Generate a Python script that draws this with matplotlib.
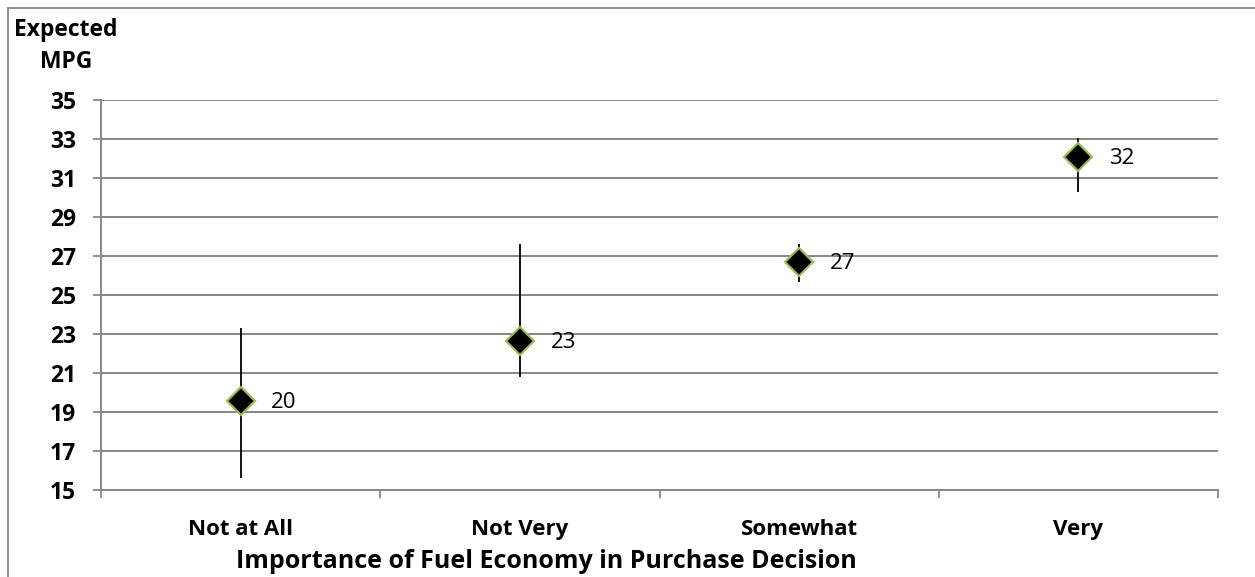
import matplotlib
matplotlib.use("Agg")
import matplotlib.pyplot as plt
from matplotlib.lines import Line2D

categories = ["Not at All", "Not Very", "Somewhat", "Very"]
means = [19.55, 22.64, 26.66, 32.08]
upper = [23.28, 27.6, 27.6, 33.02]
lower = [15.62, 20.76, 25.64, 30.28]
labels = ["20", "23", "27", "32"]
yticks = [15, 17, 19, 21, 23, 25, 27, 29, 31, 33, 35]

plt.rcParams['font.family'] = ['Open Sans', 'DejaVu Sans']

W, H = 1255, 577
fig = plt.figure(figsize=(W / 100, H / 100), dpi=100)
ax = fig.add_axes([101 / W, 1 - 489.7 / H, (1218 - 101) / W, (489.7 - 99.7) / H])

grey = "#878787"
x = list(range(len(categories)))
yerr = [[m - l for m, l in zip(means, lower)], [u - m for m, u in zip(means, upper)]]
ax.errorbar(x, means, yerr=yerr, fmt='none', ecolor='black', elinewidth=1.3, capsize=0, zorder=3)
ax.plot(x, means, linestyle='none', marker='D', markersize=14.2, markerfacecolor='black',
        markeredgecolor='#9BBB59', markeredgewidth=1.6, zorder=4)
for xi, m, lab in zip(x, means, labels):
    ax.annotate(lab, (xi, m), xytext=(22, -1), textcoords='offset points',
                ha='left', va='center', fontsize=16, color='black')

ax.set_xlim(-0.5, len(categories) - 0.5)
ax.set_ylim(15, 35)
ax.set_yticks(yticks)
ax.set_yticklabels([str(t) for t in yticks], fontsize=16.5, fontweight='bold')
ax.set_xticks([i - 0.5 for i in range(len(categories) + 1)])
ax.set_xticklabels([])
ax.set_xticks(x, minor=True)
ax.set_xticklabels(categories, minor=True, fontsize=16, fontweight='bold')
ax.tick_params(axis='x', which='minor', length=0, pad=21)
ax.tick_params(axis='x', which='major', length=6, width=1.3, color=grey, direction='out')
ax.tick_params(axis='y', length=6, width=1.3, color=grey, direction='out', pad=12)
ax.grid(axis='y', color=grey, linewidth=1.4)
ax.set_axisbelow(True)
for s in ['top', 'right']:
    ax.spines[s].set_visible(False)
for s in ['left', 'bottom']:
    ax.spines[s].set_color(grey)
    ax.spines[s].set_linewidth(1.4)

fig.text(66 / W, 1 - 46 / H, "Expected\nMPG", ha='center', va='center', fontsize=16.5,
         fontweight='bold', linespacing=1.45)
fig.text(546 / W, 1 - 561 / H, "Importance of Fuel Economy in Purchase Decision",
         ha='center', va='center', fontsize=18, fontweight='bold')

# outer chart border (top and left visible)
fig.add_artist(Line2D([8 / W, 8 / W], [0, 1 - 8 / H], transform=fig.transFigure, color=grey, linewidth=1.3))
fig.add_artist(Line2D([8 / W, 1], [1 - 8 / H, 1 - 8 / H], transform=fig.transFigure, color=grey, linewidth=1.3))

fig.savefig("out.png", dpi=100)
